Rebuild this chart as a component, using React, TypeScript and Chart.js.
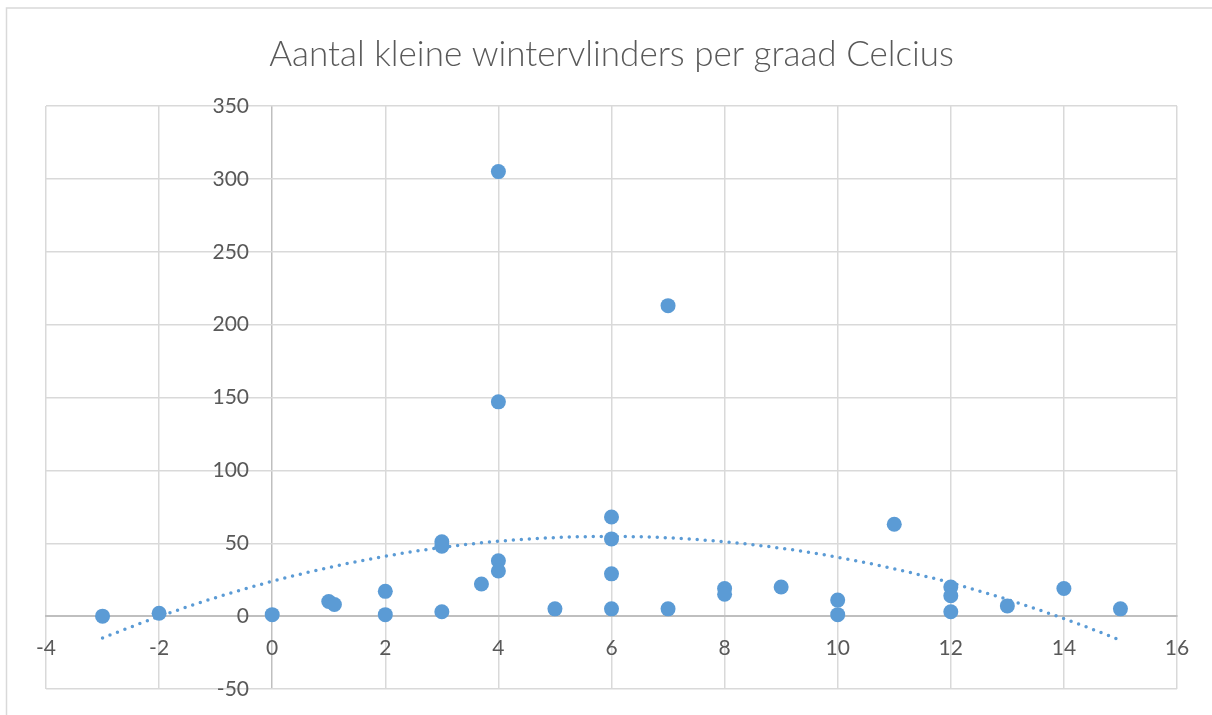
import { useEffect, useRef } from "react";
import { Chart, registerables } from "chart.js";

Chart.register(...registerables);

const chartTitle = "Aantal kleine wintervlinders per graad Celcius";

// Temperature (°C) of each observation
const temperatures = [
  -3, -2, 0, 1, 1.1, 2, 2, 3, 3, 3, 3.7, 4, 4, 4, 4, 5, 6, 6, 6, 6, 7, 7, 8, 8, 9, 10, 10, 11, 12, 12, 12, 13, 14, 15,
];
// Number of moths counted
const counts = [
  0, 2, 1, 10, 8, 17, 1, 3, 51, 48, 22, 305, 147, 38, 31, 5, 68, 53, 29, 5, 213, 5, 19, 15, 20, 11, 1, 63, 20, 14, 3, 7, 19, 5,
];

const xMin = -4;
const xMax = 16;
const xStep = 2;
const yMin = -50;
const yMax = 350;
const yStep = 50;

// polynomial (order 2) least-squares trendline from the data
function fitQuadratic(xs: number[], ys: number[]) {
  const S = [0, 0, 0, 0, 0];
  const T = [0, 0, 0];
  for (let i = 0; i < xs.length; i++) {
    const x = xs[i];
    const y = ys[i];
    for (let k = 0; k < 5; k++) S[k] += Math.pow(x, k);
    for (let k = 0; k < 3; k++) T[k] += Math.pow(x, k) * y;
  }
  const M = [
    [S[0], S[1], S[2], T[0]],
    [S[1], S[2], S[3], T[1]],
    [S[2], S[3], S[4], T[2]],
  ];
  for (let c = 0; c < 3; c++) {
    let p = c;
    for (let r = c + 1; r < 3; r++) if (Math.abs(M[r][c]) > Math.abs(M[p][c])) p = r;
    [M[c], M[p]] = [M[p], M[c]];
    for (let r = 0; r < 3; r++) {
      if (r === c) continue;
      const f = M[r][c] / M[c][c];
      for (let k = c; k < 4; k++) M[r][k] -= f * M[c][k];
    }
  }
  return [M[0][3] / M[0][0], M[1][3] / M[1][1], M[2][3] / M[2][2]];
}

export default function App() {
  const canvasRef = useRef<HTMLCanvasElement | null>(null);

  useEffect(() => {
    const canvas = canvasRef.current;
    if (!canvas) return;

    const points = temperatures.map((t, i) => ({ x: t, y: counts[i] }));
    const [c0, c1, c2] = fitQuadratic(temperatures, counts);
    const tMin = Math.min(...temperatures);
    const tMax = Math.max(...temperatures);
    const trend: { x: number; y: number }[] = [];
    const n = 90;
    for (let i = 0; i <= n; i++) {
      const x = tMin + ((tMax - tMin) * i) / n;
      trend.push({ x, y: c0 + c1 * x + c2 * x * x });
    }

    const framePlugin = {
      id: "frame",
      beforeDraw(chart: any) {
        const ctx = chart.ctx;
        ctx.save();
        ctx.fillStyle = "#ffffff";
        ctx.fillRect(0, 0, chart.width, chart.height);
        ctx.strokeStyle = "#d9d9d9";
        ctx.lineWidth = 1.5;
        ctx.beginPath();
        ctx.moveTo(6.5, chart.height);
        ctx.lineTo(6.5, 8);
        ctx.lineTo(chart.width, 8);
        ctx.stroke();
        ctx.restore();
      },
    };

    const chart = new Chart(canvas, {
      type: "scatter",
      data: {
        datasets: [
          {
            label: "Aantal",
            data: points,
            backgroundColor: "#5b9bd5",
            borderColor: "#5b9bd5",
            pointRadius: 7.5,
            pointBorderWidth: 0,
            order: 1,
          },
          {
            type: "line",
            label: "Trend",
            data: trend,
            borderColor: "#5b9bd5",
            borderWidth: 3.5,
            borderDash: [0, 8],
            borderCapStyle: "round",
            pointRadius: 0,
            fill: false,
            tension: 0,
            order: 2,
          } as any,
        ],
      },
      options: {
        animation: false,
        responsive: false,
        devicePixelRatio: 1,
        layout: { padding: { left: 46, right: 35, top: 0, bottom: 26 } },
        plugins: {
          legend: { display: false },
          tooltip: { enabled: false },
          title: {
            display: true,
            text: chartTitle,
            color: "#595959",
            font: { family: "Lato", size: 35, weight: "300" as any, lineHeight: 1.2 },
            padding: { top: 34, bottom: 30 },
          },
        },
        scales: {
          x: {
            type: "linear",
            position: { y: 0 } as any,
            min: xMin,
            max: xMax,
            ticks: {
              stepSize: xStep,
              color: "#595959",
              font: { family: "Lato", size: 21 },
              padding: 20,
            },
            grid: {
              color: (ctx: any) => (ctx.tick && ctx.tick.value === 0 ? "#bfbfbf" : "#d9d9d9"),
              lineWidth: 1.5,
              drawTicks: false,
            },
            border: { color: "#bfbfbf", width: 2 },
          },
          y: {
            type: "linear",
            // labels sit just left of the vertical axis at x = 0
            position: { x: -0.41 } as any,
            min: yMin,
            max: yMax,
            ticks: {
              stepSize: yStep,
              color: "#595959",
              font: { family: "Lato", size: 21 },
            },
            grid: { color: "#d9d9d9", lineWidth: 1.5, drawTicks: false },
            border: { display: false },
          },
        },
      },
      plugins: [framePlugin],
    });

    return () => chart.destroy();
  }, []);

  return (
    <div style={{ position: "absolute", left: 0, top: 0, width: 1212, height: 715 }}>
      <canvas ref={canvasRef} width={1212} height={715} style={{ width: 1212, height: 715, display: "block" }} />
    </div>
  );
}
